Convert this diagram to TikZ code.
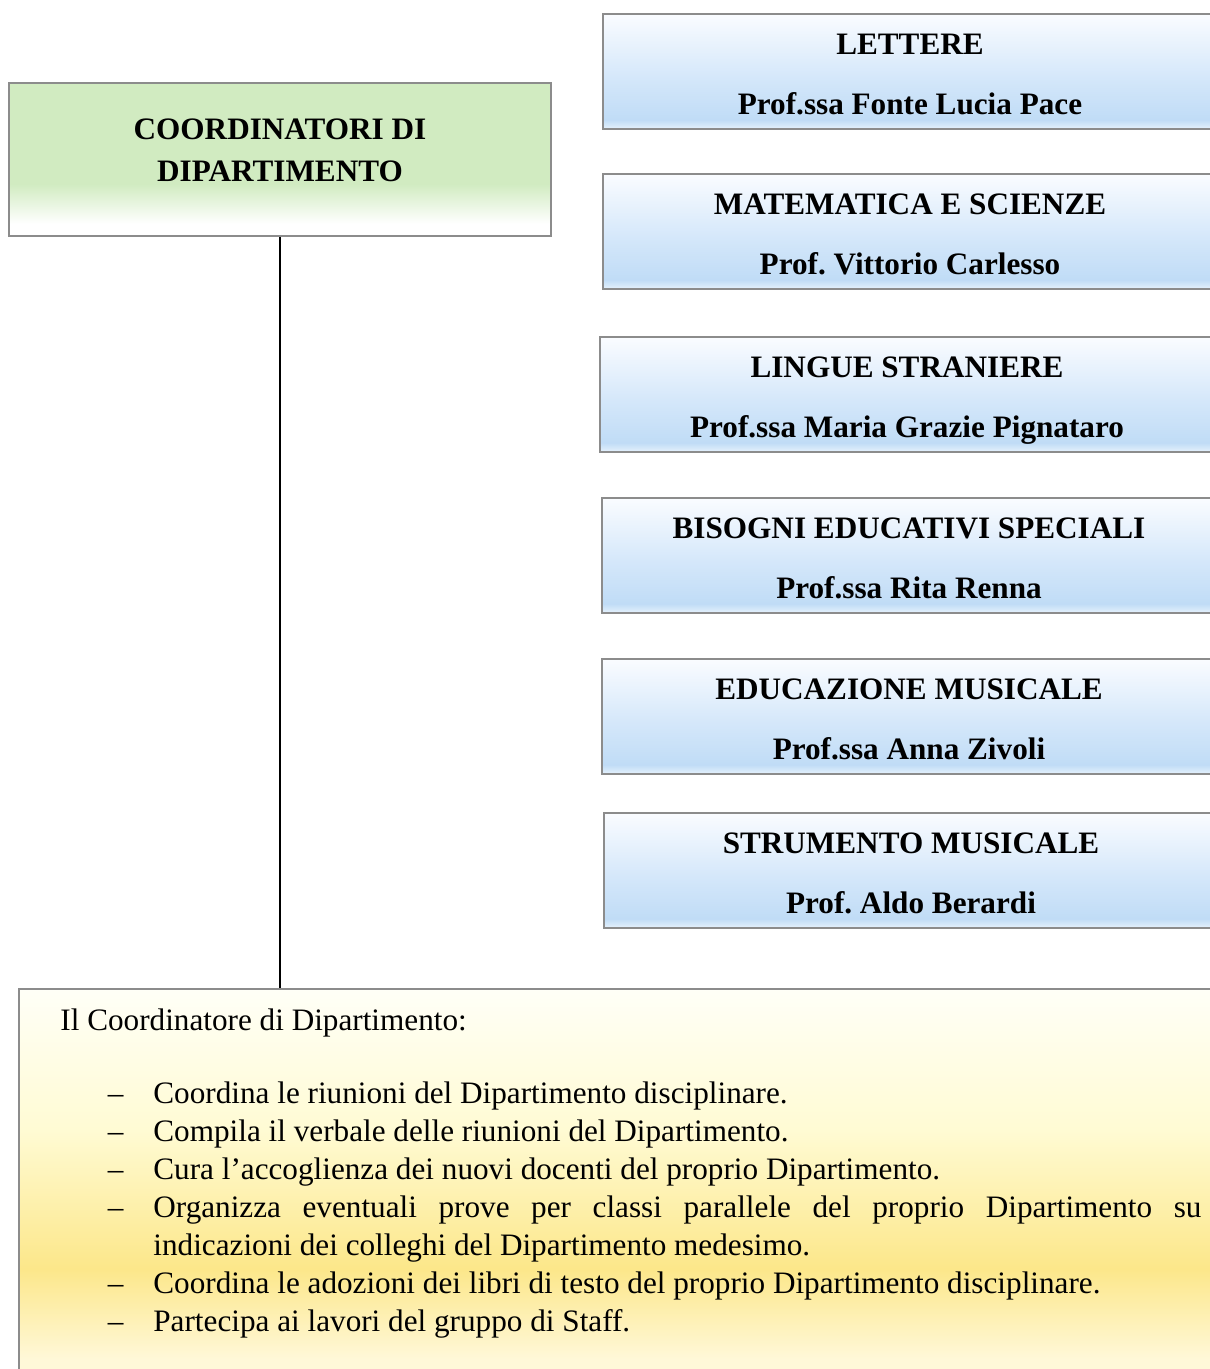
\documentclass[tikz,border=0pt]{standalone}
\usepackage{fontspec}
\setmainfont{Liberation Serif}
\usetikzlibrary{positioning}
\frenchspacing

\definecolor{boxline}{RGB}{140,140,140}
\definecolor{greenfill}{RGB}{209,235,193}
\definecolor{bluetop}{RGB}{250,252,255}
\definecolor{bluemid}{RGB}{212,231,250}
\definecolor{bluedeep}{RGB}{192,220,246}
\definecolor{bluebot}{RGB}{230,242,252}
\definecolor{yeltop}{RGB}{255,255,247}
\definecolor{yelmid}{RGB}{255,251,212}
\definecolor{yeldeep}{RGB}{252,231,138}
\definecolor{yelbot}{RGB}{255,248,216}

\pgfdeclareverticalshading{greenshade}{100bp}{color(0bp)=(white); color(25bp)=(white); color(29bp)=(white); color(42bp)=(greenfill); color(75bp)=(greenfill); color(100bp)=(greenfill)}
\pgfdeclareverticalshading{blueshade}{100bp}{color(0bp)=(bluebot); color(25bp)=(bluebot); color(29bp)=(bluedeep); color(47bp)=(bluemid); color(75bp)=(bluetop); color(100bp)=(bluetop)}
\pgfdeclareverticalshading{yellowshade}{100bp}{color(0bp)=(yelbot); color(25bp)=(yelbot); color(30bp)=(yelbot); color(41bp)=(yeldeep); color(58bp)=(yelmid); color(75bp)=(yeltop); color(100bp)=(yeltop)}

% titolo e docente di un dipartimento
\newcommand{\dept}[2]{\rule{0pt}{16.9pt}#1\\[11pt]#2\rule[-4pt]{0pt}{4pt}}

\tikzset{
  box/.style={draw=boxline, line width=1pt, rectangle, inner sep=0pt, shade},
  greenbox/.style={box, shading=greenshade, minimum width=271pt, minimum height=76.5pt},
  deptbox/.style={box, shading=blueshade, minimum width=307pt, minimum height=57.5pt,
    align=center, font=\bfseries\fontsize{15.6}{19}\selectfont},
  infobox/.style={box, shading=yellowshade, minimum width=605.5pt, minimum height=205.5pt},
  titletext/.style={align=center, inner sep=0pt, font=\bfseries\fontsize{15.6}{21}\selectfont},
  infotext/.style={inner sep=0pt, text width=570.5pt, align=justify,
    font=\fontsize{15.6}{19}\selectfont},
  connector/.style={line width=0.6pt, black}
}

\begin{document}
\begin{tikzpicture}[x=0.5pt, y=-0.5pt]
  \useasboundingbox (0,0) rectangle (1209,1369);

  % Coordinatori
  \node[greenbox] (coord) at (280,159.5) {};
  \node[titletext] (coordtext) at (280,150) {COORDINATORI DI\\DIPARTIMENTO};

  % Dipartimenti
  \node[deptbox] (lettere) at (910,71.5) {\dept{LETTERE}{Prof.ssa Fonte Lucia Pace}};
  \node[deptbox] (matematica) at (910,231.5) {\dept{MATEMATICA E SCIENZE}{Prof. Vittorio Carlesso}};
  \node[deptbox] (lingue) at (907,394.5) {\dept{LINGUE STRANIERE}{Prof.ssa Maria Grazie Pignataro}};
  \node[deptbox] (bisogni) at (909,555.5) {\dept{BISOGNI EDUCATIVI SPECIALI}{Prof.ssa Rita Renna}};
  \node[deptbox] (educazione) at (909,716.5) {\dept{EDUCAZIONE MUSICALE}{Prof.ssa Anna Zivoli}};
  \node[deptbox] (strumento) at (911,870.5) {\dept{STRUMENTO MUSICALE}{Prof. Aldo Berardi}};

  % Compiti del coordinatore
  \node[infobox] (info) at (624.5,1194.5) {};
  \node[infotext, anchor=north west] (infolist) at (60,1008) {%
    \parindent=0pt
    Il Coordinatore di Dipartimento:\par
    \vspace{17.5pt}
    \begin{list}{\textendash}{\setlength{\leftmargin}{46.5pt}\setlength{\labelsep}{15pt}%
      \setlength{\labelwidth}{31.5pt}\setlength{\itemsep}{0pt}\setlength{\parsep}{0pt}%
      \setlength{\topsep}{0pt}\setlength{\partopsep}{0pt}}
    \item Coordina le riunioni del Dipartimento disciplinare.
    \item Compila il verbale delle riunioni del Dipartimento.
    \item Cura l’accoglienza dei nuovi docenti del proprio Dipartimento.
    \item Organizza eventuali prove per classi parallele del proprio Dipartimento su\linebreak
      indicazioni dei colleghi del Dipartimento medesimo.
    \item Coordina le adozioni dei libri di testo del proprio Dipartimento disciplinare.
    \item Partecipa ai lavori del gruppo di Staff.
    \end{list}};

  % Collegamento
  \draw[connector] (coord.south) -- (coord.south |- info.north);
\end{tikzpicture}
\end{document}
